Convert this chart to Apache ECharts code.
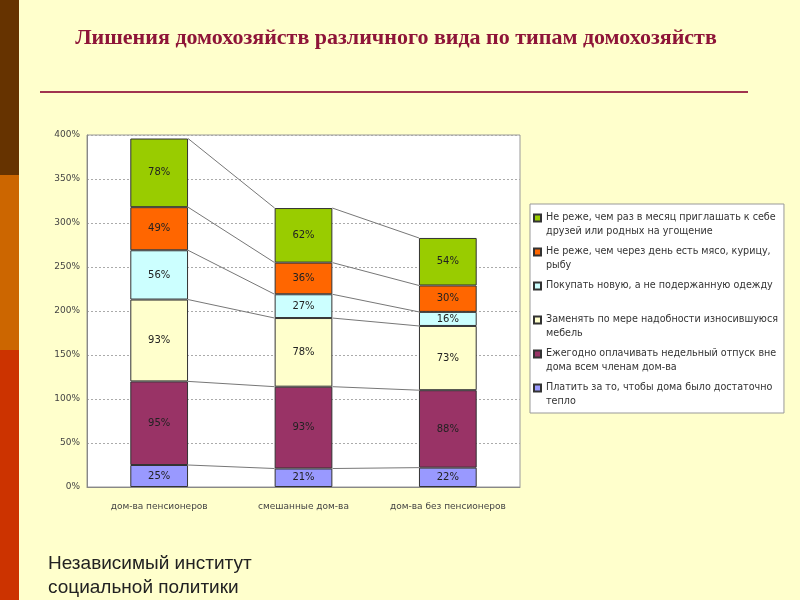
<!DOCTYPE html>
<html>
<head>
<meta charset="utf-8">
<script src="https://cdn.jsdelivr.net/npm/echarts@6/dist/echarts.min.js"></script>
<style>
  html, body { margin: 0; padding: 0; background: #ffffcc; }
  #chart { width: 800px; height: 600px; }
</style>
</head>
<body>
<div id="chart"></div>
<script>
// categories (household types)
var categories = ['дом-ва пенсионеров', 'смешанные дом-ва', 'дом-ва без пенсионеров']

// series, bottom to top of the stack
var seriesNames = [
  'Платить за то, чтобы дома было достаточно тепло',
  'Ежегодно оплачивать недельный отпуск вне дома всем членам дом-ва',
  'Заменять по мере надобности износившуюся мебель',
  'Покупать новую, а не подержанную одежду',
  'Не реже, чем через день есть мясо, курицу, рыбу',
  'Не реже, чем раз в месяц приглашать к себе друзей или родных на угощение'
]
var legendText = [
  'Платить за то, чтобы дома было достаточно\nтепло',
  'Ежегодно оплачивать недельный отпуск вне\nдома всем членам дом-ва',
  'Заменять по мере надобности износившуюся\nмебель',
  'Покупать новую, а не подержанную одежду\n ',
  'Не реже, чем через день есть мясо, курицу,\nрыбу',
  'Не реже, чем раз в месяц приглашать к себе\nдрузей или родных на угощение'
]
var warmth = [25, 21, 22]
var holiday = [95, 93, 88]
var furniture = [93, 78, 73]
var clothes = [56, 27, 16]
var meat = [49, 36, 30]
var guests = [78, 62, 54]
var colors = ['#9999ff', '#993366', '#ffffcc', '#ccffff', '#ff6600', '#99cc00']

var yTicks = { min: 0, max: 400, interval: 50 }

var allValues = [warmth, holiday, furniture, clothes, meat, guests]

// cumulative tops, for the series lines between bars
var connectors = []
var cum = [0, 0, 0]
for (var s = 0; s < allValues.length; s++) {
  for (var c = 0; c < 3; c++) cum[c] += allValues[s][c]
  for (var c2 = 0; c2 < 2; c2++) connectors.push([c2, cum[c2], cum[c2 + 1]])
}

var series = []
for (var i = 0; i < allValues.length; i++) {
  series.push({
    name: seriesNames[i],
    type: 'bar',
    stack: 'total',
    barWidth: '40%',
    data: allValues[i],
    itemStyle: { color: colors[i], borderColor: '#333', borderWidth: 1 },
    label: {
      show: true,
      position: 'inside',
      formatter: '{c}%',
      color: '#222',
      fontSize: 10,
      fontFamily: 'DejaVu Sans'
    }
  })
}
series.push({
  type: 'custom',
  z: 1,
  silent: true,
  data: connectors,
  renderItem: function (params, api) {
    var half = api.size([1, 0])[0] * 0.2
    var p1 = api.coord([api.value(0), api.value(1)])
    var p2 = api.coord([api.value(0) + 1, api.value(2)])
    return {
      type: 'line',
      shape: { x1: p1[0] + half, y1: p1[1], x2: p2[0] - half, y2: p2[1] },
      style: { stroke: '#777', lineWidth: 1 }
    }
  }
})

var legendMap = {}
seriesNames.forEach(function (n, k) { legendMap[n] = legendText[k] })

var myChart = echarts.init(document.getElementById('chart'))
var option = {
  backgroundColor: '#ffffcc',
  animation: false,
  graphic: [
    { type: 'rect', shape: { x: 0, y: 0, width: 19, height: 175 }, style: { fill: '#663300' } },
    { type: 'rect', shape: { x: 0, y: 175, width: 19, height: 175 }, style: { fill: '#cc6600' } },
    { type: 'rect', shape: { x: 0, y: 350, width: 19, height: 250 }, style: { fill: '#cc3300' } },
    { type: 'line', shape: { x1: 40, y1: 92, x2: 748, y2: 92 }, style: { stroke: '#a0344f', lineWidth: 2 } },
    {
      type: 'text',
      x: 396,
      y: 38,
      style: {
        text: 'Лишения домохозяйств различного вида по типам домохозяйств',
        font: 'bold 22px "Liberation Serif"',
        fill: '#8e1538',
        align: 'center',
        verticalAlign: 'middle'
      }
    },
    {
      type: 'text',
      left: 48,
      top: 552,
      style: {
        text: 'Независимый институт\nсоциальной политики',
        font: '19px "Liberation Sans"',
        lineHeight: 24,
        fill: '#222'
      }
    }
  ],
  grid: {
    left: 87,
    right: 280,
    top: 135,
    bottom: 113,
    show: true,
    backgroundColor: '#ffffff',
    borderColor: '#999',
    borderWidth: 1
  },
  legend: {
    orient: 'vertical',
    left: 530,
    top: 204,
    padding: [6, 6, 4, 3],
    itemGap: 5,
    itemWidth: 7,
    itemHeight: 20,
    icon: 'path://M0,0L7,0L7,7L0,7Z M0,20',
    backgroundColor: '#ffffff',
    borderColor: '#999',
    borderWidth: 1,
    data: seriesNames.slice().reverse(),
    formatter: function (name) { return legendMap[name] },
    textStyle: {
      fontFamily: 'DejaVu Sans',
      fontSize: 9.6,
      lineHeight: 14.5,
      color: '#333'
    }
  },
  xAxis: {
    type: 'category',
    data: categories,
    axisLine: { lineStyle: { color: '#888' } },
    axisTick: { show: false },
    axisLabel: { interval: 0, color: '#444', fontSize: 9, fontFamily: 'DejaVu Sans', margin: 15 }
  },
  yAxis: {
    type: 'value',
    min: yTicks.min,
    max: yTicks.max,
    interval: yTicks.interval,
    axisLine: { show: true, lineStyle: { color: '#888' } },
    axisTick: { show: false },
    axisLabel: { formatter: '{value}%', color: '#444', fontSize: 9, fontFamily: 'DejaVu Sans', margin: 7 },
    splitLine: { lineStyle: { color: '#aaa', type: [2, 2] } }
  },
  series: series
}
myChart.setOption(option, true)
</script>
</body>
</html>
